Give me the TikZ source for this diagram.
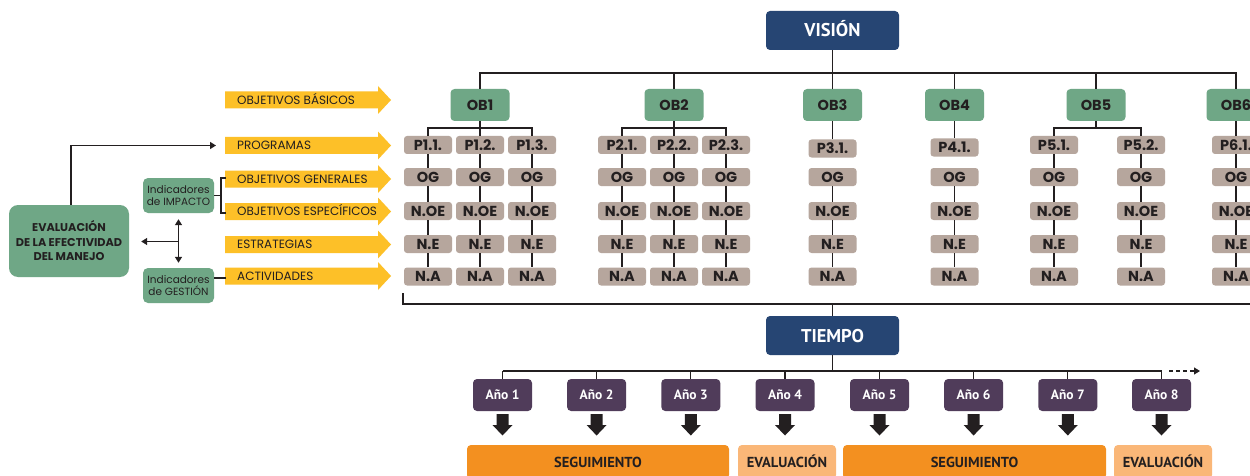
\documentclass[tikz,border=0pt]{standalone}
\usepackage{fontspec}
\newfontfamily\gothic{Poppins}
\newfontfamily\myr{PT Sans}
\usetikzlibrary{arrows.meta}
\definecolor{dblue}{RGB}{38,69,115}
\definecolor{obgreen}{RGB}{111,167,134}
\definecolor{pgray}{RGB}{182,166,157}
\definecolor{ylw}{RGB}{253,192,40}
\definecolor{purp}{RGB}{80,60,90}
\definecolor{orng}{RGB}{243,144,32}
\definecolor{lorng}{RGB}{250,183,120}
\definecolor{dark}{RGB}{35,31,32}
\begin{document}
\begin{tikzpicture}[x=1pt,y=-1pt,
  ln/.style={draw=dark,line width=1.3pt},
  bluebox/.style={fill=dblue,rounded corners=4pt,minimum width=133pt,minimum height=39pt,inner sep=0pt,text=white,font=\myr\bfseries\fontsize{18.5}{18.5}\selectfont,text height=13pt,text depth=0pt},
  obbox/.style={fill=obgreen,rounded corners=4pt,minimum width=59pt,minimum height=32pt,inner sep=0pt,text=dark,font=\gothic\bfseries\fontsize{14.5}{14.5}\selectfont,text height=10.5pt,text depth=0pt},
  pbox/.style={fill=pgray,rounded corners=3pt,minimum width=48pt,minimum height=18pt,inner sep=0pt,text=dark,font=\gothic\bfseries\fontsize{14.5}{14.5}\selectfont,text height=10.5pt,text depth=0pt},
  ylabel/.style={anchor=west,inner sep=0pt,text=dark,font=\gothic\fontsize{12}{12}\selectfont,text height=8.7pt,text depth=0pt},
  indbox/.style={fill=obgreen,rounded corners=5pt,minimum width=71pt,minimum height=35pt,inner sep=0pt,align=center,text=dark,font=\gothic\fontsize{10.5}{12.5}\selectfont},
  evalbox/.style={fill=obgreen,rounded corners=9pt,minimum width=120pt,minimum height=72pt,inner sep=0pt,align=center,text=dark,font=\gothic\bfseries\fontsize{11.3}{14.5}\selectfont},
  anobox/.style={fill=purp,rounded corners=4pt,minimum width=59pt,minimum height=32pt,inner sep=0pt,text=white,font=\myr\bfseries\fontsize{13.5}{13.5}\selectfont,text height=9.5pt,text depth=0pt},
  barbox/.style={rounded corners=4pt,minimum height=34pt,inner sep=0pt,text=dark,font=\myr\bfseries\fontsize{14.5}{14.5}\selectfont,text height=10pt,text depth=0pt},
  tip/.style={-{Triangle[length=6pt,width=7pt]}}
]
\clip (0,0) rectangle (1250,476);
\fill[white] (0,0) rectangle (1250,476);

% ---------- VISION and objectives ----------
\node[bluebox] (vision) at (832.5,30.5) {VISIÓN};
\node[obbox] (ob1) at (480,105) {OB1};
\node[obbox] (ob2) at (674,105) {OB2};
\node[obbox] (ob3) at (832.5,105) {OB3};
\node[obbox] (ob4) at (954.5,105) {OB4};
\node[obbox] (ob5) at (1096,105) {OB5};
\node[obbox] (ob6) at (1236,105) {OB6};
\coordinate (bus) at (0,73);
\draw[ln] (ob1.north) -- (ob1.north |- bus) -- (ob6.north |- bus) -- (ob6.north);
\draw[ln] (vision.south) -- (ob3.north);
\foreach \o in {2,4,5} \draw[ln] (ob\o.north) -- (ob\o.north |- bus);

% ---------- program columns ----------
\foreach \n/\x/\p/\py in {1/428/P1.1./145,2/480/P1.2./145,3/532/P1.3./145,
  4/622/P2.1./145,5/674/P2.2./145,6/726/P2.3./145,7/832.5/P3.1./148.5,
  8/954.5/P4.1./147.5,9/1054/P5.1./145,10/1141/P5.2./145,11/1236/P6.1./145}{
  \node[pbox] (p\n) at (\x,\py) {\p};
  \node[pbox] (og\n) at (\x,177) {OG};
  \node[pbox] (oe\n) at (\x,211) {N.OE};
  \node[pbox] (ne\n) at (\x,244) {N.E};
  \node[pbox] (na\n) at (\x,276.5) {N.A};
  \draw[ln] (og\n) -- (oe\n) (oe\n) -- (ne\n) (ne\n) -- (na\n);
}
\foreach \n in {1,2,3,4,5,6,9,10,11} \draw[ln] (p\n) -- (og\n);
% branches
\coordinate (br) at (0,128);
\draw[ln] (p1.north) |- (ob1.south |- br) -| (p3.north);
\draw[ln] (ob1) -- (p2);
\draw[ln] (p4.north) |- (ob2.south |- br) -| (p6.north);
\draw[ln] (ob2) -- (p5);
\draw[ln] (ob3) -- (p7);
\draw[ln] (ob4) -- (p8);
\draw[ln] (p9.north) |- (ob5.south |- br) -| (p10.north);
\draw[ln] (ob5.south) -- (ob5.south |- br);
\draw[ln] (ob6) -- (p11);

% ---------- bracket & TIEMPO ----------
\coordinate (bk0) at (403,293);
\coordinate (bk1) at (403,304);
\coordinate (bk2) at (1252,304);
\draw[ln] (bk0) -- (bk1) -- (bk2);
\node[bluebox] (tiempo) at (832.5,335.5) {TIEMPO};
\draw[ln] (tiempo.north) -- (tiempo.north |- bk1);

% ---------- years ----------
\coordinate (tl) at (0,371);
\foreach \i/\x in {1/502.5,2/596.6,3/690.8,4/785,5/879.5,6/973.6,7/1067.8,8/1161.5}{
  \node[anobox] (y\i) at (\x,395) {Año \i};
  \draw[ln] (y\i.north) -- (y\i.north |- tl);
  \fill[dark] (\x-6,414) -- (\x+6,414) -- (\x+6,425) -- (\x+10,425) -- (\x,435.5) -- (\x-10,425) -- (\x-6,425) -- cycle;
}
\draw[ln] (y1.north |- tl) -- (y8.north |- tl);
\draw[ln] (tiempo.south) -- (tiempo.south |- tl);
\coordinate (ds) at (1169,371);
\coordinate (de) at (1200,371);
\draw[ln,line width=1.1pt,dash pattern=on 4pt off 3pt,-{Triangle[length=6pt,width=7pt]}] (ds) -- (de);

\node[barbox,fill=orng,minimum width=262pt] (seg1) at (598,462) {SEGUIMIENTO};
\node[barbox,fill=lorng,minimum width=98pt] (ev1) at (787,462) {EVALUACIÓN};
\node[barbox,fill=orng,minimum width=263pt] (seg2) at (974.5,462) {SEGUIMIENTO};
\node[barbox,fill=lorng,minimum width=98pt] (ev2) at (1163,462) {EVALUACIÓN};

% ---------- yellow arrows ----------
\foreach \k/\c/\t in {a/100/OBJETIVOS BÁSICOS,b/145.5/PROGRAMAS,c/179/OBJETIVOS GENERALES,d/211.5/OBJETIVOS ESPECÍFICOS,e/244.5/ESTRATEGIAS,f/276/ACTIVIDADES}{
  \fill[ylw] (225,\c-8.5) -- (378,\c-8.5) -- (378,\c-14) -- (391,\c) -- (378,\c+14) -- (378,\c+8.5) -- (225,\c+8.5) -- cycle;
  \node[ylabel] (lab\k) at (237,\c) {\t};
}

% ---------- left part ----------
\node[evalbox] (eval) at (69,241) {EVALUACIÓN\\DE LA EFECTIVIDAD\\DEL MANEJO};
\node[indbox] (imp) at (178.5,195.5) {Indicadores\\de IMPACTO};
\node[indbox] (ges) at (178.5,285.5) {Indicadores\\de GESTIÓN};
\coordinate (progend) at (216,145.5);
\draw[ln,tip] (eval.north -| 71,0) |- (progend);
\coordinate (brx) at (221,195.5);
\coordinate (brt) at (225.5,178);
\coordinate (brb) at (225.5,213);
\draw[ln] (imp.east) -- (brx);
\draw[ln] (brt) -| (brx) |- (brb);
\coordinate (gsl) at (225.5,278);
\draw[ln] (ges.east |- gsl) -- (gsl);
\draw[ln,{Triangle[length=6pt,width=7pt]}-{Triangle[length=6pt,width=7pt]},shorten <=6pt,shorten >=5pt] (imp.south) -- (ges.north);
\coordinate (mid) at (178.5,241.5);
\draw[ln,tip,shorten >=12pt] (mid) -- (eval.east |- mid);
\end{tikzpicture}
\end{document}
